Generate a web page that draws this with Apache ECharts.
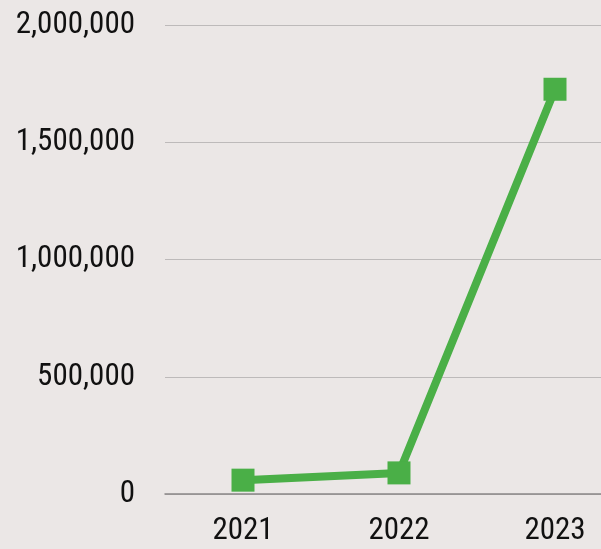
<!DOCTYPE html>
<html>
<head>
<meta charset="utf-8">
<script src="https://cdn.jsdelivr.net/npm/echarts@6/dist/echarts.min.js"></script>
<style>
html,body{margin:0;padding:0;background:#ebe7e6;}
#c{width:601px;height:549px;}
</style>
</head>
<body>
<div id="c"></div>
<script>
const categories = ['2021', '2022', '2023'];
const values = [59000, 90000, 1726000];
const yTicks = [0, 500000, 1000000, 1500000, 2000000];

// pick the narrowest installed condensed face
const ctx = document.createElement('canvas').getContext('2d');
function w(font) { ctx.font = '100px ' + font; return ctx.measureText('2,000,000').width; }
const candidates = ['"Liberation Sans Narrow"', '"Roboto Condensed"', '"Open Sans Condensed"', '"DejaVu Sans Condensed"'];
let face = '"DejaVu Sans Condensed"';
for (const f of candidates) {
  if (w(f + ', monospace') !== w('monospace') || w(f + ', serif') !== w('serif')) { face = f; break; }
}
const FONT = face + ', sans-serif';
const per = w(FONT) / 100;
const FS = Math.min(31, Math.round(121 / per));

const chart = echarts.init(document.getElementById('c'), null, {renderer: 'canvas'});
chart.setOption({
  backgroundColor: '#ebe7e6',
  animation: false,
  grid: {left: 165, right: -32, top: 25, bottom: 55, containLabel: false, outerBoundsMode: 'none'},
  xAxis: {
    type: 'category',
    data: categories,
    boundaryGap: true,
    axisLine: {show: true, lineStyle: {color: '#8a8888', width: 1.5}},
    axisTick: {show: false},
    axisLabel: {fontFamily: FONT, fontSize: FS, color: '#111', margin: 22}
  },
  yAxis: {
    type: 'value',
    min: yTicks[0],
    max: yTicks[yTicks.length - 1],
    interval: 500000,
    axisLine: {show: false},
    axisTick: {show: false},
    splitLine: {lineStyle: {color: '#bdbaba', width: 1}},
    axisLabel: {
      fontFamily: FONT, fontSize: FS, color: '#111', margin: 30,
      formatter: v => v.toLocaleString('en-US')
    }
  },
  series: [{
    type: 'line',
    data: values,
    symbol: 'rect',
    symbolSize: 23,
    lineStyle: {color: '#4aaf47', width: 8},
    itemStyle: {color: '#4aaf47'}
  }]
});
</script>
</body>
</html>
